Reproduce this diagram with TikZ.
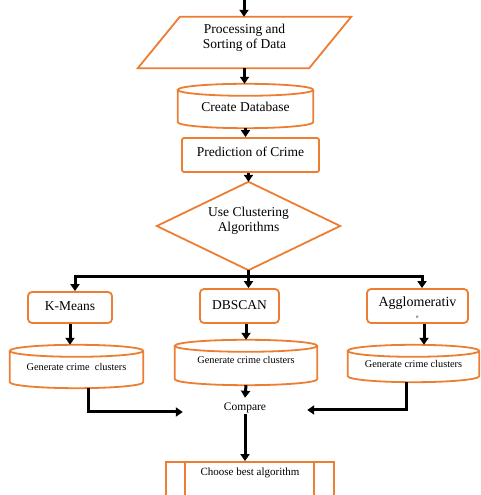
\documentclass[tikz,border=0pt]{standalone}
\usepackage{fontspec}
\setmainfont{Liberation Serif}
\usetikzlibrary{arrows.meta,calc}
\definecolor{obrd}{RGB}{237,125,49}
\newcommand\cylshape[2]{%
  \draw[obox] let \p1=(#1.north west), \p2=(#1.south east), \n1={(\x2-\x1)/2} in
    (\x1,\y1-#2) -- (\x1,\y2+#2)
    arc[start angle=180,end angle=360,x radius=\n1,y radius=#2]
    -- (\x2,\y1-#2)
    arc[start angle=0,end angle=360,x radius=\n1,y radius=#2];}
\begin{document}
\begin{tikzpicture}[x=1pt,y=1pt,
  obox/.style={draw=obrd,line width=1.8pt},
  shp/.style={inner sep=0pt},
  lbl/.style={align=center,font=\fontsize{13.5}{14.5}\selectfont},
  small/.style={align=center,font=\fontsize{10.3}{12}\selectfont},
  conn/.style={line width=3pt,-{Triangle[width=9pt,length=7pt]}},
  plain/.style={line width=3pt}]
\useasboundingbox (0,0) rectangle (480,495);
\coordinate (start) at (244,495);
% processing parallelogram
\node[shp,minimum width=213,minimum height=51,
  label={[lbl,yshift=4.5pt]center:Processing and\\Sorting of Data}] (proc) at (244.5,452.5) {};
\draw[obox] ([xshift=42]proc.north west) -- (proc.north east) -- ([xshift=-42]proc.south east) -- (proc.south west) -- cycle;
% database cylinder
\node[shp,minimum width=135,minimum height=44,
  label={[lbl,yshift=-1pt]center:Create Database}] (db) at (245.5,389) {};
\cylshape{db}{6pt}
% prediction
\node[shp,obox,rounded corners=2pt,minimum width=137,minimum height=34,
  label={[lbl,yshift=3pt]center:Prediction of Crime}] (pred) at (250.5,340) {};
% diamond
\node[shp,minimum width=183,minimum height=88,
  label={[lbl,yshift=5pt]center:Use Clustering\\Algorithms}] (dia) at (248.5,269) {};
\draw[obox] (dia.north) -- (dia.east) -- (dia.south) -- (dia.west) -- cycle;
% algorithms
\node[shp,obox,rounded corners=4pt,minimum width=84,minimum height=31,
  label={[lbl,yshift=1.5pt]center:K-Means}] (kmeans) at (70,187.5) {};
\node[shp,obox,rounded corners=4pt,minimum width=79,minimum height=34,
  label={[lbl,yshift=1pt]center:DBSCAN}] (dbscan) at (239.5,189) {};
\node[shp,obox,rounded corners=4pt,minimum width=101,minimum height=34,
  label={[lbl,font=\fontsize{14}{15}\selectfont,yshift=3pt]center:Agglomerativ},
  label={[font=\fontsize{5}{5}\selectfont,yshift=-11pt]center:e}] (agg) at (417.5,189) {};
% cluster cylinders
\node[shp,minimum width=133,minimum height=43,
  label={[small,yshift=-0.5pt]center:Generate crime\ \ clusters}] (cyl1) at (76.5,128.5) {};
\cylshape{cyl1}{6pt}
\node[shp,minimum width=142,minimum height=45,
  label={[small,yshift=2.5pt]center:Generate crime clusters}] (cyl2) at (246,132.5) {};
\cylshape{cyl2}{6pt}
\node[shp,minimum width=131,minimum height=37,
  label={[small,yshift=-0.5pt]center:Generate crime clusters}] (cyl3) at (413.5,131.5) {};
\cylshape{cyl3}{6pt}
% compare
\node[shp,minimum width=124,minimum height=20,font=\fontsize{11.5}{13}\selectfont] (compare) at (245,87) {Compare};
% choose best
\node[shp,obox,minimum width=168,minimum height=34,
  label={[font=\fontsize{11}{13}\selectfont,yshift=6pt]center:Choose best algorithm}] (choose) at (250,16) {};
\draw[obox] ([xshift=20]choose.north west) -- ([xshift=20]choose.south west);
\draw[obox] ([xshift=-21]choose.north east) -- ([xshift=-21]choose.south east);
% connectors
\draw[conn] (start) -- (start |- proc.north);
\draw[conn] (proc.south) -- (proc.south |- db.north);
\draw[conn] (db.south) -- (db.south |- pred.north);
\draw[conn] (dia.north |- pred.south) -- (dia.north);
\coordinate (bus) at ($(dia.south)+(0,-6)$);
\draw[conn] (dia.south) -- (dia.south |- dbscan.north);
\draw[conn] (bus) -| ([xshift=5]kmeans.north);
\draw[conn] (bus) -| ([xshift=4.5]agg.north);
\draw[conn] (kmeans.south) -- (kmeans.south |- cyl1.north);
\draw[conn] (cyl2.north |- dbscan.south) -- (cyl2.north);
\draw[conn] ([xshift=6.5]agg.south) -- ([xshift=6.5]agg.south |- cyl3.north);
\draw[conn] ([xshift=11.5]cyl1.south) |- ([yshift=-4]compare.west);
\draw[conn] ([xshift=-7.5]cyl3.south) |- ([yshift=-2]compare.east);
\draw[conn] (cyl2.south) -- (compare.north);
\draw[conn] ([yshift=4]compare.south) -- (compare.south |- choose.north);
\end{tikzpicture}
\end{document}
